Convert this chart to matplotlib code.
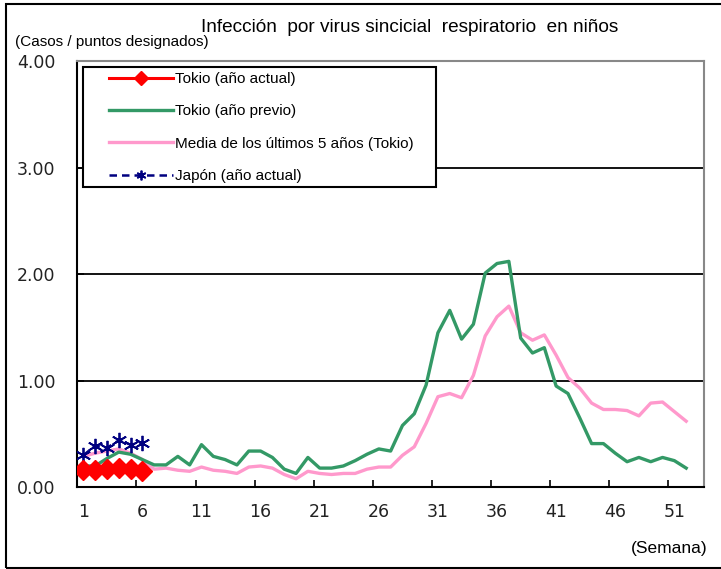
import matplotlib
matplotlib.use("Agg")
import matplotlib.pyplot as plt
import matplotlib.patches as patches
from matplotlib.ticker import FixedLocator, FormatStrFormatter

plt.rcParams['font.family'] = ['Liberation Sans', 'DejaVu Sans']

# data
weeks = list(range(1, 53))
week_labels = [1, 6, 11, 16, 21, 26, 31, 36, 41, 46, 51]

tokyo_current = [0.16, 0.16, 0.17, 0.18, 0.17, 0.15]
japan_current = [0.30, 0.39, 0.37, 0.44, 0.40, 0.42]

tokyo_prev = [0.20, 0.20, 0.27, 0.33, 0.31, 0.26, 0.21, 0.21, 0.29, 0.21,
              0.40, 0.29, 0.26, 0.21, 0.34, 0.34, 0.28, 0.17, 0.13, 0.28,
              0.18, 0.18, 0.20, 0.25, 0.31, 0.36, 0.34, 0.58, 0.69, 0.96,
              1.45, 1.66, 1.39, 1.53, 2.01, 2.10, 2.12, 1.40, 1.26, 1.31,
              0.95, 0.88, 0.65, 0.41, 0.41, 0.32, 0.24, 0.28, 0.24, 0.28,
              0.25, 0.18]

avg_5y = [0.29, 0.32, 0.34, 0.36, 0.32, 0.26, 0.17, 0.18, 0.16, 0.15,
          0.19, 0.16, 0.15, 0.13, 0.19, 0.20, 0.18, 0.12, 0.08, 0.15,
          0.13, 0.12, 0.13, 0.13, 0.17, 0.19, 0.19, 0.30, 0.38, 0.60,
          0.85, 0.88, 0.84, 1.05, 1.42, 1.60, 1.70, 1.45, 1.38, 1.43,
          1.24, 1.03, 0.93, 0.79, 0.73, 0.73, 0.72, 0.67, 0.79, 0.80,
          0.71, 0.62]

fig = plt.figure(figsize=(7.21, 5.69), dpi=100)
ax = fig.add_axes([0.1073, 0.1436, 0.8690, 0.7492])

# outer frame
fig.patches.append(patches.Rectangle((6 / 721, 1.5 / 569), 1.2, 1 - 5.5 / 569,
                                     transform=fig.transFigure, fill=False,
                                     edgecolor='black', linewidth=1.5, zorder=0))

for y in [1, 2, 3]:
    ax.axhline(y, color='black', linewidth=1.3, zorder=1)

ax.plot(weeks[:len(avg_5y)], avg_5y, color='#ff99cc', linewidth=2.4,
        label='Media de los últimos 5 años (Tokio)', zorder=2)
ax.plot(weeks[:len(tokyo_prev)], tokyo_prev, color='#339966', linewidth=2.4,
        label='Tokio (año previo)', zorder=3)
ax.plot(weeks[:len(tokyo_current)], tokyo_current, color='#ff0000', linewidth=2.2,
        marker='D', markersize=10, label='Tokio (año actual)', zorder=5)
ax.plot(weeks[:len(japan_current)], japan_current, color='#000080', linewidth=1.8,
        linestyle='--', dashes=(3, 2), marker=(6, 2, 0), markersize=11,
        markeredgewidth=1.3, label='Japón (año actual)', zorder=4)

ax.set_xlim(0.5, 53.5)
ax.set_ylim(0, 4)

ax.xaxis.set_major_locator(FixedLocator(week_labels))
ax.xaxis.set_minor_locator(FixedLocator([w + 4.5 for w in week_labels[:-1]]))
ax.tick_params(axis='x', which='major', length=0, pad=11, labelsize=12.5)
ax.tick_params(axis='x', which='minor', direction='in', length=5, width=1.2)
ax.set_yticks([0, 1, 2, 3, 4])
ax.yaxis.set_major_formatter(FormatStrFormatter('%.2f'))
ax.tick_params(axis='y', direction='in', length=5, width=1.2, pad=16, labelsize=12.5)
for lab in ax.get_xticklabels() + ax.get_yticklabels():
    lab.set_family(['DejaVu Sans'])
    lab.set_color('#222222')

ax.spines['left'].set_linewidth(1.5)
ax.spines['bottom'].set_linewidth(1.5)
ax.spines['top'].set_color('#888888')
ax.spines['right'].set_color('#888888')
ax.spines['top'].set_linewidth(1.5)
ax.spines['right'].set_linewidth(1.5)

# legend frame drawn as a box, legend itself unframed
ax.add_patch(patches.Rectangle((0.0089, 0.7044), 0.5634, 0.2815, transform=ax.transAxes,
                               facecolor='white', edgecolor='black', linewidth=1.5,
                               zorder=8))

handles, labels = ax.get_legend_handles_labels()
order = [2, 1, 0, 3]
leg = ax.legend([handles[i] for i in order], [labels[i] for i in order],
                loc='upper left', bbox_to_anchor=(0.0504, 0.974),
                fontsize=11, handlelength=4.2, handletextpad=0.15,
                labelspacing=1.2, borderpad=0, frameon=False, borderaxespad=0)
leg.set_zorder(10)
for h in leg.legend_handles:
    h.set_markersize(7)

fig.text(410 / 721, 1 - 28 / 569, 'Infección  por virus sincicial  respiratorio  en niños',
         ha='center', va='center', fontsize=13.7)
fig.text(15 / 721, 1 - 42 / 569, '(Casos / puntos designados)', ha='left', va='center',
         fontsize=11)
fig.text(707 / 721, 1 - 548 / 569, '(Semana)', ha='right', va='center', fontsize=12.5)

fig.savefig('out.png', dpi=100)
